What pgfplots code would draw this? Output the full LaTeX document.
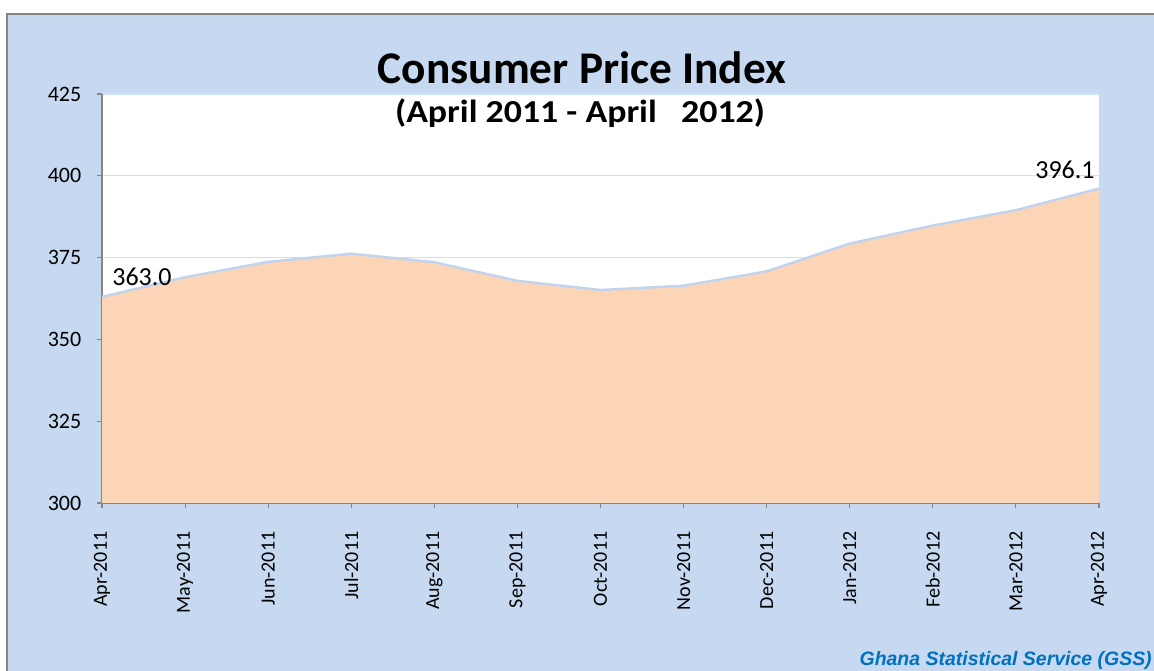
\documentclass[border=0pt]{standalone}
\usepackage{pgfplots}
\pgfplotsset{compat=1.18}
\usepackage{fontspec}
\setmainfont{Carlito}
\newfontfamily\arialfont{Liberation Sans}
\definecolor{bgblue}{RGB}{198,217,240}
\definecolor{peach}{RGB}{251,213,181}
\definecolor{lineblue}{RGB}{192,212,240}
\definecolor{gridblue}{RGB}{205,225,246}
\definecolor{axgray}{RGB}{134,134,134}
\definecolor{gssblue}{RGB}{0,112,192}
\begin{document}
\begin{tikzpicture}
\useasboundingbox (0,0) rectangle (865.5pt,503.25pt);
\clip (0,0) rectangle (865.5pt,503.25pt);
\draw[axgray, line width=1.5pt, fill=bgblue] (5.25pt,-20pt) rectangle (900pt,492.75pt);
\begin{axis}[
  at={(76.5pt,126pt)}, anchor=south west,
  scale only axis, width=747.75pt, height=306.75pt,
  xmin=0, xmax=12, ymin=300, ymax=425,
  axis x line*=bottom, axis y line*=left,
  axis line style={axgray, line width=1pt},
  axis background/.style={fill=white},
  xtick={0,...,12},
  xticklabels={Apr-2011,May-2011,Jun-2011,Jul-2011,Aug-2011,Sep-2011,Oct-2011,Nov-2011,Dec-2011,Jan-2012,Feb-2012,Mar-2012,Apr-2012},
  ytick={300,325,350,375,400,425},
  tick align=outside, major tick length=4pt,
  tick style={axgray, line width=0.8pt},
  ymajorgrids, grid style={gridblue, line width=0.8pt},
  xticklabel style={rotate=90, anchor=east, font=\fontsize{15}{18}\selectfont, xshift=-14pt},
  yticklabel style={font=\fontsize{16.5}{20}\selectfont, xshift=-8pt},
  /pgf/number format/assume math mode=true,
  clip=false,
]
\addplot[fill=peach, draw=none] coordinates {
(0,363.0) (1,369.0) (2,373.7) (3,376.2) (4,373.6) (5,367.9) (6,365.1) (7,366.4) (8,370.8) (9,379.3) (10,384.8) (11,389.5) (12,396.1)
} \closedcycle;
\addplot[draw=lineblue, line width=1.8pt] coordinates {
(0,363.0) (1,369.0) (2,373.7) (3,376.2) (4,373.6) (5,367.9) (6,365.1) (7,366.4) (8,370.8) (9,379.3) (10,384.8) (11,389.5) (12,396.1)
};
\node[font=\fontsize{19.5}{22}\selectfont] at ([xshift=30pt,yshift=15pt]axis cs:0,363.0) {363.0};
\node[font=\fontsize{19.5}{22}\selectfont] at ([xshift=-25.5pt,yshift=14pt]axis cs:12,396.1) {396.1};
\end{axis}
\node[font=\fontsize{34}{40}\selectfont\bfseries] at (436.5pt,452.25pt) {Consumer Price Index};
\node[font=\fontsize{24}{28}\selectfont\bfseries, xscale=1.12] at (435pt,418.5pt) {(April 2011 - April \ \ 2012)};
\node[anchor=base east, inner sep=0pt, font=\arialfont\fontsize{14.6}{18}\selectfont\bfseries\itshape, text=gssblue] at (864pt,4pt) {Ghana Statistical Service (GSS)};
\end{tikzpicture}
\end{document}
